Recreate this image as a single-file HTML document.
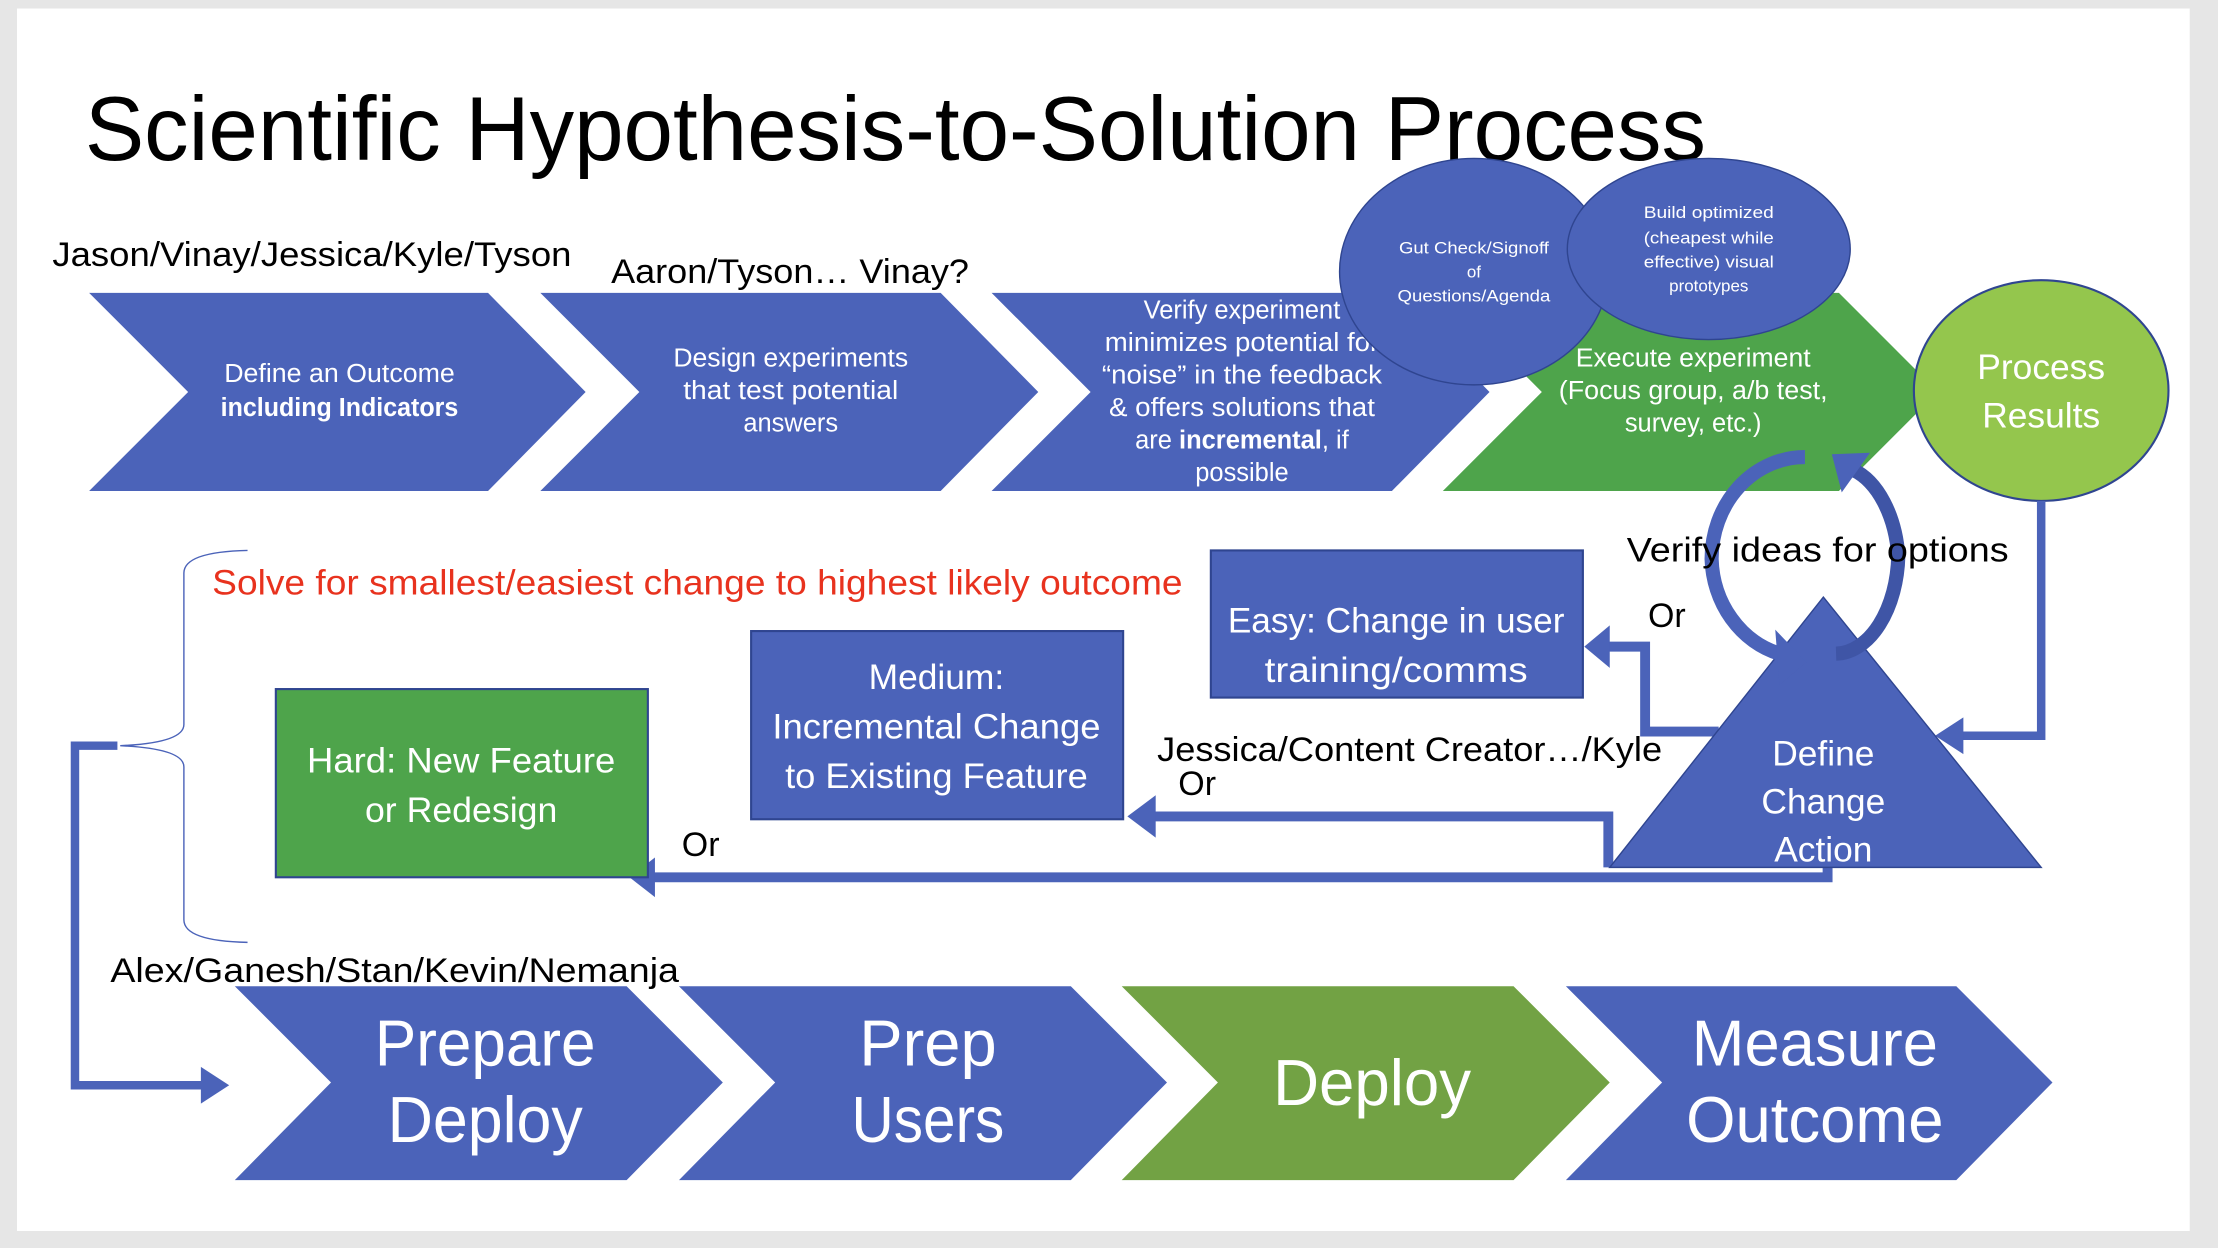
<!DOCTYPE html>
<html><head><meta charset="utf-8"><style>
html,body{margin:0;padding:0;background:#e6e6e6;}
svg{display:block;}
text{font-family:"Liberation Sans",sans-serif;}
</style></head><body>
<svg width="2218" height="1248" viewBox="0 0 1568 882" preserveAspectRatio="none" xmlns="http://www.w3.org/2000/svg">
<rect x="0" y="0" width="1568" height="882" fill="#e6e6e6"/>
<rect x="12" y="6" width="1536" height="864" fill="#ffffff"/>
<text x="60" y="113" font-size="64" fill="#000" textLength="1146" lengthAdjust="spacingAndGlyphs">Scientific Hypothesis-to-Solution Process</text>

<text x="37" y="188" font-size="24" fill="#000" textLength="367" lengthAdjust="spacingAndGlyphs">Jason/Vinay/Jessica/Kyle/Tyson</text>
<text x="432" y="200" font-size="24" fill="#000" textLength="253" lengthAdjust="spacingAndGlyphs">Aaron/Tyson… Vinay?</text>

<g fill="#4b63b9">
<polygon points="63,207 345,207 414,277 345,347 63,347 133,277"/>
<polygon points="382,207 665,207 734,277 665,347 382,347 452,277"/>
<polygon points="701,207 984,207 1053,277 984,347 701,347 771,277"/>
</g>
<polygon points="1020,207 1300,207 1370,277 1300,347 1020,347 1090,277" fill="#4ea44b"/>

<g fill="#fff" font-size="18" text-anchor="middle">
<text x="240" y="270" textLength="163" lengthAdjust="spacingAndGlyphs">Define an Outcome</text>
<text x="240" y="294" font-weight="bold" textLength="168" lengthAdjust="spacingAndGlyphs">including Indicators</text>
<text x="559" y="259" textLength="166" lengthAdjust="spacingAndGlyphs">Design experiments</text>
<text x="559" y="282" textLength="152" lengthAdjust="spacingAndGlyphs">that test potential</text>
<text x="559" y="305">answers</text>
<text x="878" y="225">Verify experiment</text>
<text x="878" y="248" textLength="194" lengthAdjust="spacingAndGlyphs">minimizes potential for</text>
<text x="878" y="271" textLength="198" lengthAdjust="spacingAndGlyphs">“noise” in the feedback</text>
<text x="878" y="294" textLength="188" lengthAdjust="spacingAndGlyphs">&amp; offers solutions that</text>
<text x="878" y="317">are <tspan font-weight="bold">incremental</tspan>, if</text>
<text x="878" y="340">possible</text>
</g>

<ellipse cx="1042" cy="192" rx="95" ry="80" fill="#4b63b9" stroke="#2f4590" stroke-width="1"/>
<ellipse cx="1208" cy="176" rx="100" ry="64" fill="#4b63b9" stroke="#2f4590" stroke-width="1"/>
<g fill="#fff" font-size="12" text-anchor="middle">
<text x="1042" y="179" textLength="106" lengthAdjust="spacingAndGlyphs">Gut Check/Signoff</text>
<text x="1042" y="196">of</text>
<text x="1042" y="213" textLength="108" lengthAdjust="spacingAndGlyphs">Questions/Agenda</text>
<text x="1208" y="154" textLength="92" lengthAdjust="spacingAndGlyphs">Build optimized</text>
<text x="1208" y="172" textLength="92" lengthAdjust="spacingAndGlyphs">(cheapest while</text>
<text x="1208" y="189" textLength="92" lengthAdjust="spacingAndGlyphs">effective) visual</text>
<text x="1208" y="206">prototypes</text>
</g>
<g fill="#fff" font-size="18" text-anchor="middle">
<text x="1197" y="259" textLength="166" lengthAdjust="spacingAndGlyphs">Execute experiment</text>
<text x="1197" y="282" textLength="190" lengthAdjust="spacingAndGlyphs">(Focus group, a/b test,</text>
<text x="1197" y="305">survey, etc.)</text>
</g>

<ellipse cx="1443" cy="276" rx="90" ry="78" fill="#94c64d" stroke="#2f4590" stroke-width="1.5"/>
<g fill="#fff" font-size="25" text-anchor="middle">
<text x="1443" y="268">Process</text>
<text x="1443" y="302">Results</text>
</g>

<polyline points="1443,354 1443,520 1385,520" fill="none" stroke="#4b63b9" stroke-width="6"/>
<polygon points="1368,520 1388,507 1388,533" fill="#4b63b9"/>

<polyline points="1215,517 1163,517 1163,457 1135,457" fill="none" stroke="#4b63b9" stroke-width="7"/>
<polygon points="1120,457 1138,442 1138,472" fill="#4b63b9"/>
<polyline points="1137,613 1137,577 812,577" fill="none" stroke="#4b63b9" stroke-width="7"/>
<polygon points="797,577 817,562 817,592" fill="#4b63b9"/>
<polyline points="1292,613 1292,620 460,620" fill="none" stroke="#4b63b9" stroke-width="7"/>
<polygon points="445,620 463,606 463,634" fill="#4b63b9"/>

<polygon points="1289,422 1443,613 1138,613" fill="#4b63b9" stroke="#2f4590" stroke-width="1"/>
<g fill="#fff" font-size="25" text-anchor="middle">
<text x="1289" y="541">Define</text>
<text x="1289" y="575">Change</text>
<text x="1289" y="609">Action</text>
</g>

<!-- circular arrows -->
<path d="M1276,323 A66,72 0 0 0 1210,395 A66,72 0 0 0 1258,462" fill="none" stroke="#4b63b9" stroke-width="10" stroke-linejoin="round"/>
<polygon points="1277,468 1255,445 1258,484" fill="#4b63b9"/>
<path d="M1298,462 A45,72 0 0 0 1342,393 A45,72 0 0 0 1310,332" fill="none" stroke="#3f55a6" stroke-width="10"/>
<polygon points="1295,321 1322,320 1302,348" fill="#4b63b9"/>

<g fill="#000" font-size="24">
<text x="1150" y="397" textLength="270" lengthAdjust="spacingAndGlyphs">Verify ideas for options</text>
<text x="1165" y="443">Or</text>
<text x="818" y="538" textLength="357" lengthAdjust="spacingAndGlyphs">Jessica/Content Creator…/Kyle</text>
<text x="833" y="562">Or</text>
<text x="482" y="605">Or</text>
<text x="78" y="694" textLength="402" lengthAdjust="spacingAndGlyphs">Alex/Ganesh/Stan/Kevin/Nemanja</text>
</g>

<rect x="856" y="389" width="263" height="104" fill="#4b63b9" stroke="#2f4590" stroke-width="1.5"/>
<g fill="#fff" font-size="25" text-anchor="middle">
<text x="987" y="447" textLength="238" lengthAdjust="spacingAndGlyphs">Easy: Change in user</text>
<text x="987" y="482" textLength="186" lengthAdjust="spacingAndGlyphs">training/comms</text>
</g>
<rect x="531" y="446" width="263" height="133" fill="#4b63b9" stroke="#2f4590" stroke-width="1.5"/>
<g fill="#fff" font-size="25" text-anchor="middle">
<text x="662" y="487">Medium:</text>
<text x="662" y="522" textLength="232" lengthAdjust="spacingAndGlyphs">Incremental Change</text>
<text x="662" y="557" textLength="214" lengthAdjust="spacingAndGlyphs">to Existing Feature</text>
</g>
<rect x="195" y="487" width="263" height="133" fill="#4ea44b" stroke="#2f4590" stroke-width="1.5"/>
<g fill="#fff" font-size="25" text-anchor="middle">
<text x="326" y="546" textLength="218" lengthAdjust="spacingAndGlyphs">Hard: New Feature</text>
<text x="326" y="581" textLength="136" lengthAdjust="spacingAndGlyphs">or Redesign</text>
</g>

<text x="150" y="420" font-size="25" fill="#e8321e" textLength="686" lengthAdjust="spacingAndGlyphs">Solve for smallest/easiest change to highest likely outcome</text>

<path d="M175,389 Q130,390 130,405 L130,512 Q130,525 85,527 Q130,529 130,542 L130,650 Q130,665 175,666" fill="none" stroke="#4b63b9" stroke-width="1"/>
<polyline points="83,527 53,527 53,767 145,767" fill="none" stroke="#4b63b9" stroke-width="6"/>
<polygon points="162,767 142,754 142,780" fill="#4b63b9"/>

<g fill="#4b63b9">
<polygon points="166,697 443,697 511,765 443,834 166,834 234,765"/>
<polygon points="480,697 757,697 825,765 757,834 480,834 548,765"/>
<polygon points="1107,697 1383,697 1451,765 1383,834 1107,834 1175,765"/>
</g>
<polygon points="793,697 1070,697 1138,765 1070,834 793,834 861,765" fill="#72a244"/>
<g fill="#fff" font-size="46" text-anchor="middle">
<text x="343" y="753" textLength="156" lengthAdjust="spacingAndGlyphs">Prepare</text>
<text x="343" y="807" textLength="138" lengthAdjust="spacingAndGlyphs">Deploy</text>
<text x="656" y="753">Prep</text>
<text x="656" y="807" textLength="108" lengthAdjust="spacingAndGlyphs">Users</text>
<text x="970" y="781" textLength="140" lengthAdjust="spacingAndGlyphs">Deploy</text>
<text x="1283" y="753" textLength="174" lengthAdjust="spacingAndGlyphs">Measure</text>
<text x="1283" y="807" textLength="182" lengthAdjust="spacingAndGlyphs">Outcome</text>
</g>
</svg>
</body></html>
